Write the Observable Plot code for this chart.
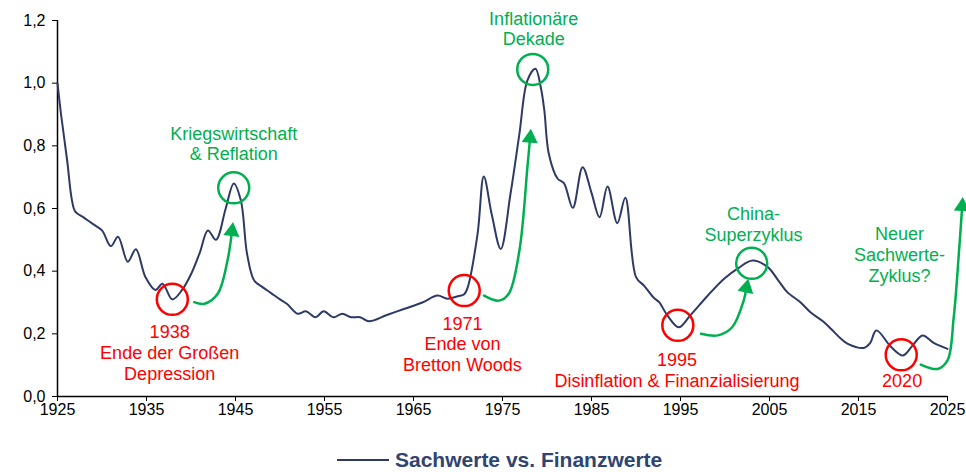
<!DOCTYPE html>
<html><head><meta charset="utf-8">
<script src="https://cdn.jsdelivr.net/npm/d3@7"></script>
<script src="https://cdn.jsdelivr.net/npm/@observablehq/plot@0.6"></script>
<style>
body{margin:0;background:#fff;font-family:"Liberation Sans",Arial,sans-serif;}
#wrap{position:relative;width:966px;height:472px;overflow:hidden;}
#legend{position:absolute;left:337px;top:447px;display:flex;align-items:center;height:26px;}
#legend .ln{width:52px;height:2px;background:#2d3a66;margin-right:6px;}
#legend .tx{font-weight:bold;font-size:21px;line-height:24px;color:#2f4470;white-space:nowrap;}
</style>
</head><body>
<div id="wrap"><div id="chart"></div>
<div id="legend"><span class="ln"></span><span class="tx">Sachwerte vs. Finanzwerte</span></div></div>
<script>
const seriesName = "Sachwerte vs. Finanzwerte";
const years = [1925,1925.4,1926.1,1926.6,1927,1928,1929,1930,1931,1931.8,1932.9,1933.8,1934.9,1936,1936.8,1937.9,1939,1940,1941,1941.9,1942.8,1943.9,1944.8,1945.6,1946.3,1947.1,1948,1949,1950,1950.8,1952,1952.9,1954,1954.9,1956,1957,1958,1959,1960,1962,1964,1966,1967.7,1968.8,1970,1970.7,1971.1,1972.2,1972.9,1973.8,1974.8,1975.9,1976.9,1977.8,1978.7,1979.3,1979.7,1980.2,1981.2,1981.9,1982.9,1984,1985,1985.9,1986.8,1987.9,1988.8,1990,1990.9,1992,1992.6,1993.5,1994.8,1996.1,1998,1999.9,2001.5,2003.1,2004.8,2006,2007,2008.5,2009.6,2011,2011.9,2013,2013.8,2015.6,2016.3,2017,2018.7,2020,2021,2022.2,2023.5,2025];
const values = [1.00,0.90,0.75,0.63,0.59,0.57,0.55,0.53,0.48,0.51,0.43,0.47,0.38,0.34,0.36,0.31,0.34,0.39,0.46,0.53,0.50,0.60,0.68,0.626,0.455,0.37,0.35,0.33,0.31,0.295,0.264,0.272,0.253,0.272,0.253,0.264,0.253,0.253,0.240,0.26,0.28,0.30,0.322,0.312,0.32,0.326,0.349,0.519,0.702,0.58,0.471,0.647,0.838,1.009,1.046,0.987,0.913,0.775,0.695,0.681,0.602,0.732,0.65,0.572,0.670,0.553,0.634,0.381,0.354,0.315,0.301,0.26,0.221,0.259,0.32,0.376,0.41,0.434,0.413,0.37,0.333,0.30,0.269,0.24,0.216,0.185,0.168,0.155,0.17,0.211,0.157,0.131,0.16,0.195,0.17,0.152];
const xTicks = [1925,1935,1945,1955,1965,1975,1985,1995,2005,2015,2025];
const yTicks = [0,0.2,0.4,0.6,0.8,1.0,1.2];

// annotations
const troughYears = [1937.9,1970.7,1994.7,2019.8];
const troughValues = [0.31,0.338,0.227,0.133];
const peakYears = [1944.8,1978.4,2003.0];
const peakValues = [0.666,1.044,0.425];

const greenLabels = ["Kriegswirtschaft\n& Reflation","Inflationäre\nDekade","China-\nSuperzyklus","Neuer\nSachwerte-\nZyklus?"];
const greenLabelYears = [1944.8,1978.5,2003.2,2019.6];
const greenLabelValues = [0.808,1.175,0.552,0.453];
const redLabels = ["1938\nEnde der Großen\nDepression","1971\nEnde von\nBretton Woods","1995\nDisinflation & Finanzialisierung","2020"];
const redLabelYears = [1937.6,1970.5,1994.6,2019.9];
const redLabelValues = [0.141,0.168,0.086,0.051];

const arrowIds = [0,0,0,0,0,1,1,1,1,1,1,2,2,2,2,2,3,3,3,3,3,3];
const arrowYears = [1940.35,1941.5,1943.0,1944.1,1944.6, 1972.93,1974.6,1975.7,1976.9,1977.8,1978.1, 1997.3,1999.2,2000.8,2002.1,2002.4, 2022.0,2023.9,2025.0,2025.7,2026.3,2026.65];
const arrowValues = [0.301,0.296,0.328,0.434,0.527, 0.322,0.306,0.328,0.466,0.732,0.825, 0.200,0.195,0.221,0.306,0.347, 0.102,0.088,0.115,0.253,0.466,0.607];
const headYears = [1944.6,1978.1,2002.4,2026.65];
const headValues = [0.527,0.825,0.347,0.607];
const headAngles = [7,5,12,4];

const series = years.map((x,i)=>({x, y: values[i], name: seriesName}));
const troughs = troughYears.map((x,i)=>({x, y: troughValues[i]}));
const peaks = peakYears.map((x,i)=>({x, y: peakValues[i]}));
const gl = greenLabels.map((t,i)=>({t, x: greenLabelYears[i], y: greenLabelValues[i]}));
const rl = redLabels.map((t,i)=>({t, x: redLabelYears[i], y: redLabelValues[i]}));
const arrows = arrowYears.map((x,i)=>({x, y: arrowValues[i], id: arrowIds[i]}));
const heads = headYears.map((x,i)=>({x, y: headValues[i], a: headAngles[i]}));

const RED = "#ff0000", GREEN = "#00b050", NAVY = "#2d3a66";
const fmt = v => v.toFixed(1).replace(".", ",");

const chart = Plot.plot({
  width: 966, height: 440,
  marginLeft: 57, marginRight: 19, marginTop: 20, marginBottom: 44,
  style: {fontFamily: "'Liberation Sans', Arial, sans-serif", fontSize: "16px", color: "#000", background: "#fff", overflow: "visible"},
  x: {domain: [1925, 2025], label: null},
  y: {domain: [0, 1.2], label: null},
  marks: [
    Plot.axisX({ticks: xTicks, tickFormat: d => String(d), tickSize: 5, tickPadding: 2, label: null, fontSize: 16, stroke: "#000"}),
    Plot.axisY({ticks: yTicks, tickFormat: fmt, tickSize: 5, tickPadding: 7, label: null, fontSize: 16, stroke: "#000"}),
    Plot.ruleY([0], {stroke: "#000", strokeWidth: 1.5}),
    Plot.ruleX([1925], {stroke: "#000", strokeWidth: 1.5}),
    Plot.line(series, {x: "x", y: "y", stroke: NAVY, strokeWidth: 2, curve: "catmull-rom"}),
    Plot.line(arrows, {x: "x", y: "y", z: "id", stroke: GREEN, strokeWidth: 2.5, curve: "catmull-rom", clip: false}),
    Plot.dot(heads, {x: "x", y: "y", symbol: "triangle", r: 6, fill: GREEN, stroke: "none", rotate: "a", clip: false}),
    Plot.dot(troughs, {x: "x", y: "y", r: 15.5, stroke: RED, strokeWidth: 2.5, fill: "none"}),
    Plot.dot(peaks, {x: "x", y: "y", r: 15.5, stroke: GREEN, strokeWidth: 2.5, fill: "none"}),
    Plot.text(gl, {x: "x", y: "y", text: "t", fill: GREEN, fontSize: 18, lineHeight: 1.15}),
    Plot.text(rl, {x: "x", y: "y", text: "t", fill: RED, fontSize: 18, lineHeight: 1.15})
  ]
});
document.getElementById("chart").appendChild(chart);
</script>
</body></html>
